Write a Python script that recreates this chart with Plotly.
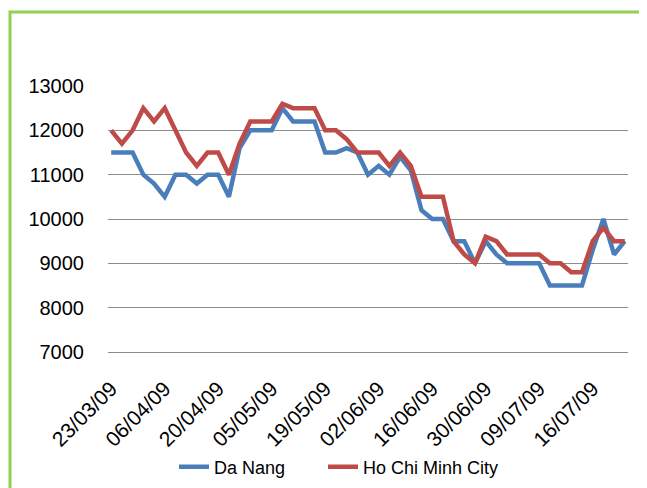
import plotly.graph_objects as go

tick_labels = ["23/03/09", "06/04/09", "20/04/09", "05/05/09", "19/05/09",
               "02/06/09", "16/06/09", "30/06/09", "09/07/09", "16/07/09"]
tick_positions = [0, 5, 10, 15, 20, 25, 30, 35, 40, 45]

da_nang = [11500, 11500, 11500, 11000, 10800, 10500, 11000, 11000, 10800, 11000,
           11000, 10500, 11600, 12000, 12000, 12000, 12500, 12200, 12200, 12200,
           11500, 11500, 11600, 11500, 11000, 11200, 11000, 11400, 11100, 10200,
           10000, 10000, 9500, 9500, 9000, 9500, 9200, 9000, 9000, 9000,
           9000, 8500, 8500, 8500, 8500, 9300, 10000, 9200, 9500]
ho_chi_minh = [12000, 11700, 12000, 12500, 12200, 12500, 12000, 11500, 11200, 11500,
               11500, 11000, 11700, 12200, 12200, 12200, 12600, 12500, 12500, 12500,
               12000, 12000, 11800, 11500, 11500, 11500, 11200, 11500, 11200, 10500,
               10500, 10500, 9500, 9200, 9000, 9600, 9500, 9200, 9200, 9200,
               9200, 9000, 9000, 8800, 8800, 9500, 9800, 9500, 9500]
idx = list(range(len(da_nang)))

fig = go.Figure()
fig.add_trace(go.Scatter(x=idx, y=da_nang, mode="lines", name="Da Nang",
                         line=dict(color="#4A7EBB", width=4.5), legend="legend"))
fig.add_trace(go.Scatter(x=idx, y=ho_chi_minh, mode="lines", name="Ho Chi Minh City",
                         line=dict(color="#BE4B48", width=4.5), legend="legend2"))

# page body has an 8px margin; work in page coordinates and shift
OFF = 8
W, H = 647 - OFF, 488 - OFF
L, R, T, B = 108 - OFF, 628 - OFF, 86 - OFF, 352 - OFF
pw, ph = R - L, B - T

def px(x):
    return (x - OFF - L) / pw

def py(y):
    return (B - (y - OFF)) / ph

fig.add_shape(type="rect", xref="paper", yref="paper",
              x0=px(10), x1=px(641), y0=py(540), y1=py(12),
              line=dict(color="#92D050", width=3), layer="below")

leg_common = dict(orientation="h", xanchor="left", yanchor="middle",
                  font=dict(size=18), bgcolor="rgba(0,0,0,0)")

fig.update_layout(
    width=W, height=H,
    margin=dict(l=L, r=W - R, t=T, b=H - B, autoexpand=False),
    paper_bgcolor="white", plot_bgcolor="white",
    font=dict(family="Liberation Sans, Arial", size=18, color="black"),
    showlegend=True,
    legend=dict(x=px(174), y=py(467), **leg_common),
    legend2=dict(x=px(323), y=py(467), **leg_common),
    xaxis=dict(range=[-0.3, 48.3], tickvals=tick_positions, ticktext=tick_labels,
               tickangle=-45, showgrid=False, zeroline=False,
               showline=True, linecolor="#8C8C8C", linewidth=1,
               ticks="", ticklabelstandoff=15, tickfont=dict(size=21), automargin=False),
    yaxis=dict(range=[7000, 13000], dtick=1000, tickformat="d", showgrid=True,
               gridcolor="#8C8C8C", gridwidth=1, zeroline=False, showline=False, ticks="",
               ticklabelstandoff=23, tickfont=dict(size=20), automargin=False),
)

fig.write_html("out.html")
